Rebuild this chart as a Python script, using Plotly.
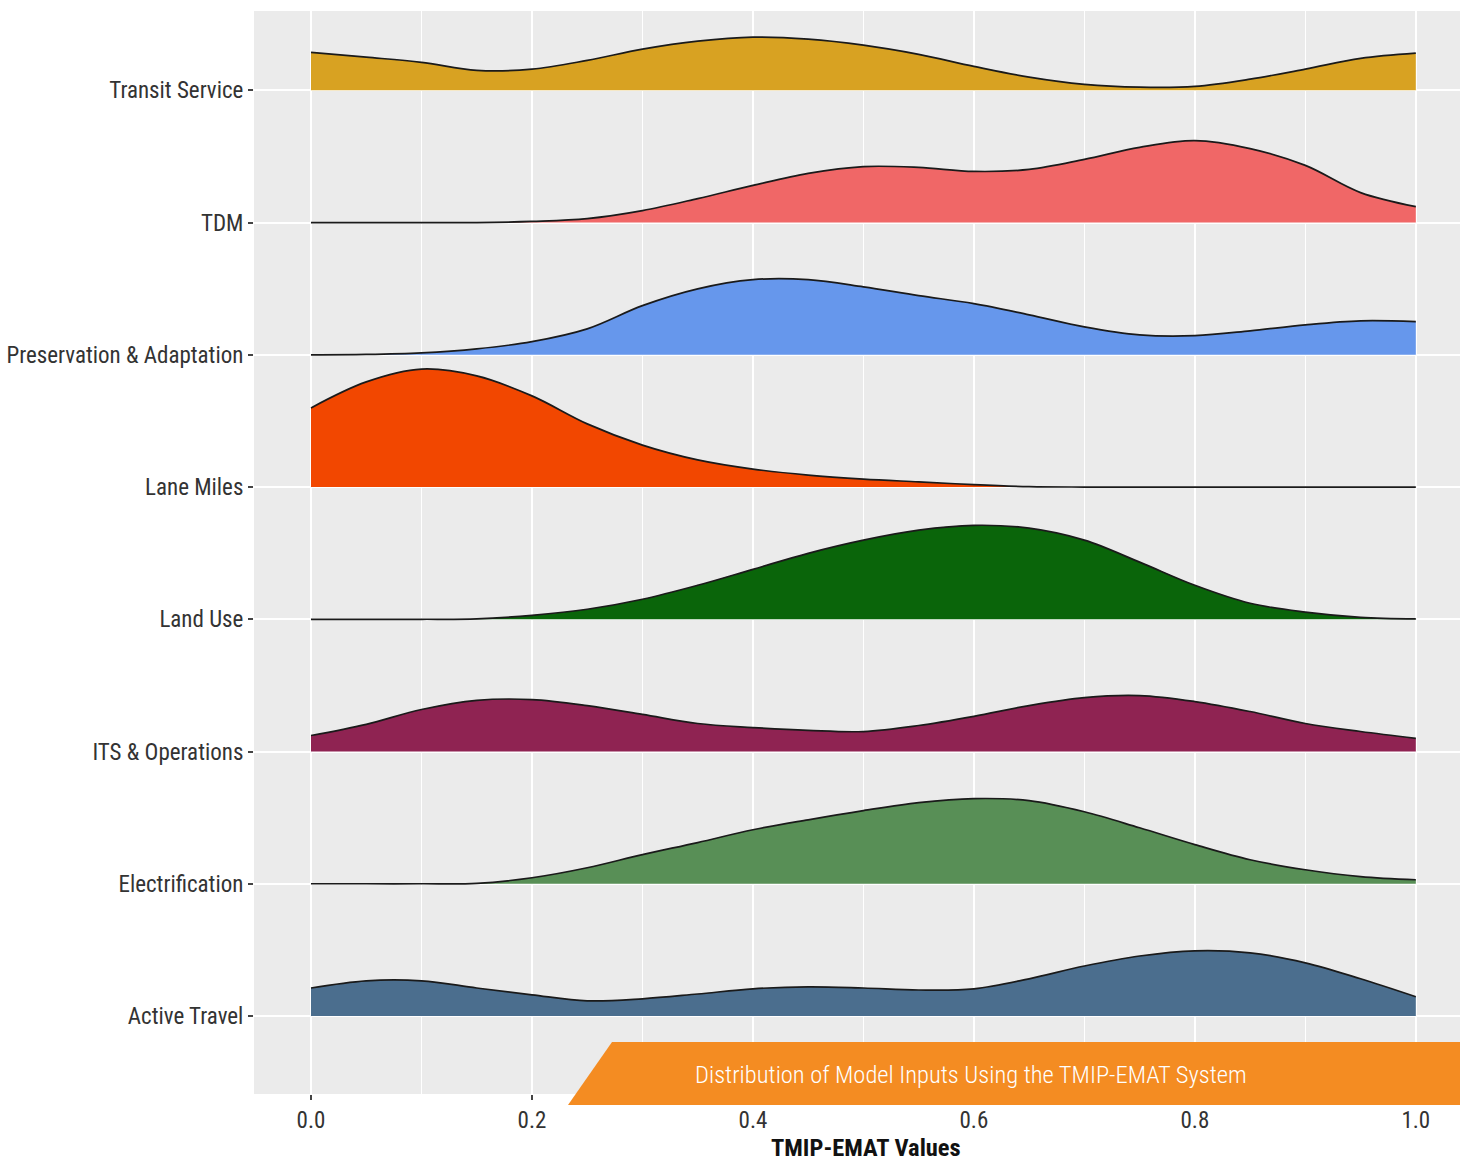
import plotly.graph_objects as go

# Sample positions along the TMIP-EMAT value axis
x_values = [0.00, 0.05, 0.10, 0.15, 0.20, 0.25, 0.30, 0.35, 0.40, 0.45, 0.50,
            0.55, 0.60, 0.65, 0.70, 0.75, 0.80, 0.85, 0.90, 0.95, 1.00]

# Ridge order from top to bottom
categories = ["Transit Service", "TDM", "Preservation & Adaptation", "Lane Miles",
              "Land Use", "ITS & Operations", "Electrification", "Active Travel"]

# Estimated density of each input at the sample positions
transit_service = [0.95, 0.83, 0.70, 0.50, 0.53, 0.75, 1.03, 1.23, 1.33, 1.28, 1.13,
                   0.90, 0.60, 0.33, 0.15, 0.08, 0.10, 0.28, 0.53, 0.80, 0.93]
tdm = [0.00, 0.00, 0.00, 0.00, 0.03, 0.10, 0.30, 0.60, 0.93, 1.23, 1.40,
       1.38, 1.28, 1.33, 1.58, 1.88, 2.05, 1.85, 1.43, 0.75, 0.40]
preservation_adaptation = [0.00, 0.01, 0.05, 0.15, 0.33, 0.65, 1.23, 1.65, 1.88, 1.88, 1.70,
                           1.48, 1.28, 1.00, 0.70, 0.50, 0.48, 0.60, 0.75, 0.85, 0.83]
lane_miles = [1.98, 2.63, 2.95, 2.78, 2.28, 1.58, 1.05, 0.68, 0.45, 0.30, 0.20,
              0.13, 0.06, 0.01, 0.00, 0.00, 0.00, 0.00, 0.00, 0.00, 0.00]
land_use = [0.00, 0.00, 0.00, 0.01, 0.10, 0.25, 0.50, 0.85, 1.25, 1.65, 1.98,
            2.23, 2.35, 2.28, 1.98, 1.43, 0.85, 0.40, 0.18, 0.05, 0.01]
its_operations = [0.40, 0.68, 1.05, 1.28, 1.30, 1.15, 0.93, 0.70, 0.60, 0.53, 0.50,
                  0.65, 0.88, 1.15, 1.35, 1.40, 1.25, 1.00, 0.70, 0.50, 0.33]
electrification = [0.00, 0.00, 0.00, 0.01, 0.15, 0.40, 0.73, 1.03, 1.35, 1.60, 1.83,
                   2.03, 2.13, 2.08, 1.80, 1.40, 0.98, 0.60, 0.35, 0.18, 0.10]
active_travel = [0.70, 0.88, 0.88, 0.70, 0.53, 0.38, 0.43, 0.55, 0.68, 0.73, 0.70,
                 0.65, 0.68, 0.93, 1.25, 1.50, 1.63, 1.58, 1.33, 0.93, 0.48]

densities = [transit_service, tdm, preservation_adaptation, lane_miles,
             land_use, its_operations, electrification, active_travel]

fill_colors = ["#D8A222", "#F06767", "#6697EC", "#F24700",
               "#0A650A", "#8F2352", "#588F56", "#4B6E8E"]

x_tick_values = [0.0, 0.2, 0.4, 0.6, 0.8, 1.0]
x_tick_labels = ["0.0", "0.2", "0.4", "0.6", "0.8", "1.0"]

# Vertical size of one density unit, in ridge rows
ridge_scale = 0.3023

FONT = "Roboto Condensed, Liberation Sans Narrow, Arial Narrow, Liberation Sans, sans-serif"
W, H = 1460, 1163
ML, MR, MT, MB = 254, 0, 11, 69

fig = go.Figure()

n = len(categories)
for i, (name, dens, color) in enumerate(zip(categories, densities, fill_colors)):
    base = n - i  # top ridge sits highest
    fig.add_trace(go.Scatter(
        x=x_values, y=[base] * len(x_values), mode="lines",
        line=dict(width=0, color=color), hoverinfo="skip", showlegend=False))
    fig.add_trace(go.Scatter(
        x=x_values, y=[base + d * ridge_scale for d in dens], mode="lines",
        fill="tonexty", fillcolor=color,
        line=dict(color="#1A1A1A", width=1.7, shape="spline", smoothing=1.0),
        name=name, showlegend=False))

plot_w = W - ML - MR
plot_h = H - MT - MB


def px_to_paper(px, py):
    return (px - ML) / plot_w, (H - MB - py) / plot_h


# Orange caption banner with a slanted left edge
bl = px_to_paper(568, 1105)
tl = px_to_paper(612, 1042)
tr = px_to_paper(1462, 1042)
br = px_to_paper(1462, 1105)
fig.add_shape(
    type="path", xref="paper", yref="paper",
    path=f"M {bl[0]},{bl[1]} L {tl[0]},{tl[1]} L {tr[0]},{tr[1]} L {br[0]},{br[1]} Z",
    fillcolor="#F48C22", line=dict(width=0), layer="above")

cx, cy = px_to_paper(971, 1074)
fig.add_annotation(
    x=cx, y=cy, xref="paper", yref="paper", showarrow=False,
    text="Distribution of Model Inputs Using the TMIP-EMAT System",
    font=dict(family=FONT, size=24.5, color="white", weight=300),
    xanchor="center", yanchor="middle")

tx, ty = px_to_paper(866, 1147)
fig.add_annotation(
    x=tx, y=ty, xref="paper", yref="paper", showarrow=False,
    text="<b>TMIP-EMAT Values</b>",
    font=dict(family=FONT, size=24.5, color="#111111"),
    xanchor="center", yanchor="middle")

fig.update_layout(
    width=W, height=H,
    margin=dict(l=ML, r=MR, t=MT, b=MB, pad=0),
    paper_bgcolor="white", plot_bgcolor="#EBEBEB",
    font=dict(family=FONT, size=23, color="#333333"),
    showlegend=False,
    xaxis=dict(
        range=[-0.0516, 1.04], tickvals=x_tick_values, ticktext=x_tick_labels,
        showgrid=True, gridcolor="white", gridwidth=2, zeroline=False,
        ticks="outside", ticklen=5, tickwidth=1.5, tickcolor="#444444",
        tickfont=dict(family=FONT, size=23, color="#333333"),
        minor=dict(tickvals=[0.1, 0.3, 0.5, 0.7, 0.9], showgrid=True,
                   gridcolor="white", gridwidth=1, ticks=""),
        showline=False, fixedrange=True, automargin=False),
    yaxis=dict(
        range=[0.41, 8.6], tickvals=list(range(n, 0, -1)), ticktext=categories,
        showgrid=True, gridcolor="white", gridwidth=2, zeroline=False,
        ticks="outside", ticklen=5, tickwidth=1.5, tickcolor="#444444",
        tickfont=dict(family=FONT, size=23, color="#333333"),
        showline=False, fixedrange=True, automargin=False),
)

fig.write_html("out.html")
